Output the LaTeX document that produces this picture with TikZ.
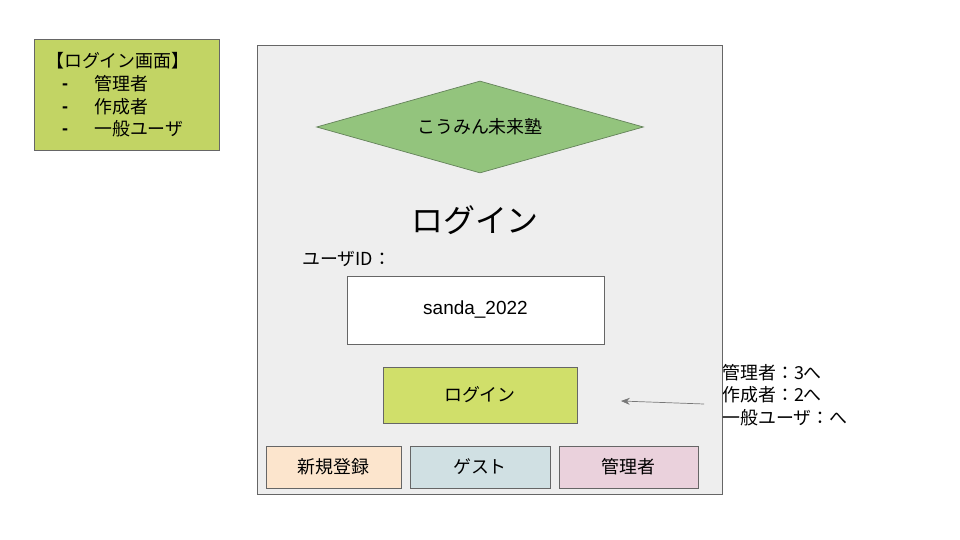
\documentclass[tikz,border=0pt]{standalone}
\usepackage{fontspec}
\setmainfont{Liberation Sans}
\newfontfamily\jp{Noto Sans CJK JP}
\usetikzlibrary{positioning}
\usetikzlibrary{shapes.geometric}
\usetikzlibrary{arrows.meta}

\definecolor{edgegray}{RGB}{102,102,102}
\definecolor{screengray}{RGB}{238,238,238}
\definecolor{legendgreen}{RGB}{194,212,100}
\definecolor{logogreen}{RGB}{147,196,125}
\definecolor{logoedge}{RGB}{100,130,90}
\definecolor{logingreen}{RGB}{208,223,106}
\definecolor{regorange}{RGB}{252,229,205}
\definecolor{guestblue}{RGB}{208,224,227}
\definecolor{adminpink}{RGB}{234,209,220}
\definecolor{arrowgray}{RGB}{120,120,120}

\begin{document}
\begin{tikzpicture}[x=0.02cm, y=-0.02cm, font=\jp\fontsize{10.2}{12.8}\selectfont,
  panel/.style={draw=edgegray, inner sep=0, outer sep=0, anchor=north west},
  button/.style={draw=edgegray, inner sep=0, outer sep=0, minimum height=0.84cm}]

\useasboundingbox (0,0) rectangle (960,540);

\node[panel, fill=legendgreen, minimum width=3.7cm, minimum height=2.22cm] (legend) at (34,39) {};
\node[anchor=west] (head) at (40,61) {【ログイン画面】};
\foreach \t [count=\i] in {管理者,作成者,一般ユーザ} {
  \node[anchor=west, font=\rmfamily\bfseries\fontsize{10.2}{12}\selectfont] (dash\i) at (56,64+\i*22.7) {-};
  \node[anchor=west] (item\i) at (88,61+\i*22.7) {\t};
}

\node[panel, fill=screengray, minimum width=9.3cm, minimum height=8.98cm] (screen) at (257,45) {};

\node[diamond, draw=logoedge, fill=logogreen, inner sep=0, aspect=3.55,
  minimum width=6.54cm, minimum height=1.84cm] (logo) at (480,127) {こうみん未来塾};

\node[font=\jp\fontsize{18.2}{20}\selectfont] (title) at (475,220) {ログイン};
\node[anchor=west] (idlabel) at (296,259) {ユーザID：};

\node[panel, fill=white, minimum width=5.14cm, minimum height=1.36cm,
  font=\fontsize{10.8}{12}\selectfont] (idbox) at (347,276) {sanda\_2022};
\node[panel, fill=logingreen, minimum width=3.88cm, minimum height=1.12cm] (login) at (383,367) {ログイン};

\node[button, fill=regorange, minimum width=2.7cm, anchor=north west] (register) at (266,446) {新規登録};
\node[button, fill=guestblue, minimum width=2.8cm, right=0.18cm of register] (guest) {ゲスト};
\node[button, fill=adminpink, minimum width=2.78cm, right=0.18cm of guest] (admin) {管理者};

\node[anchor=north west, align=left, inner sep=0] (note) at (722,364) {管理者：3へ\\作成者：2へ\\一般ユーザ：へ};

\coordinate (from) at (704,404);
\coordinate (to) at (621,401);
\draw[arrowgray, -{Stealth[length=5pt, width=4pt]}] (from) -- (to);

\end{tikzpicture}
\end{document}
